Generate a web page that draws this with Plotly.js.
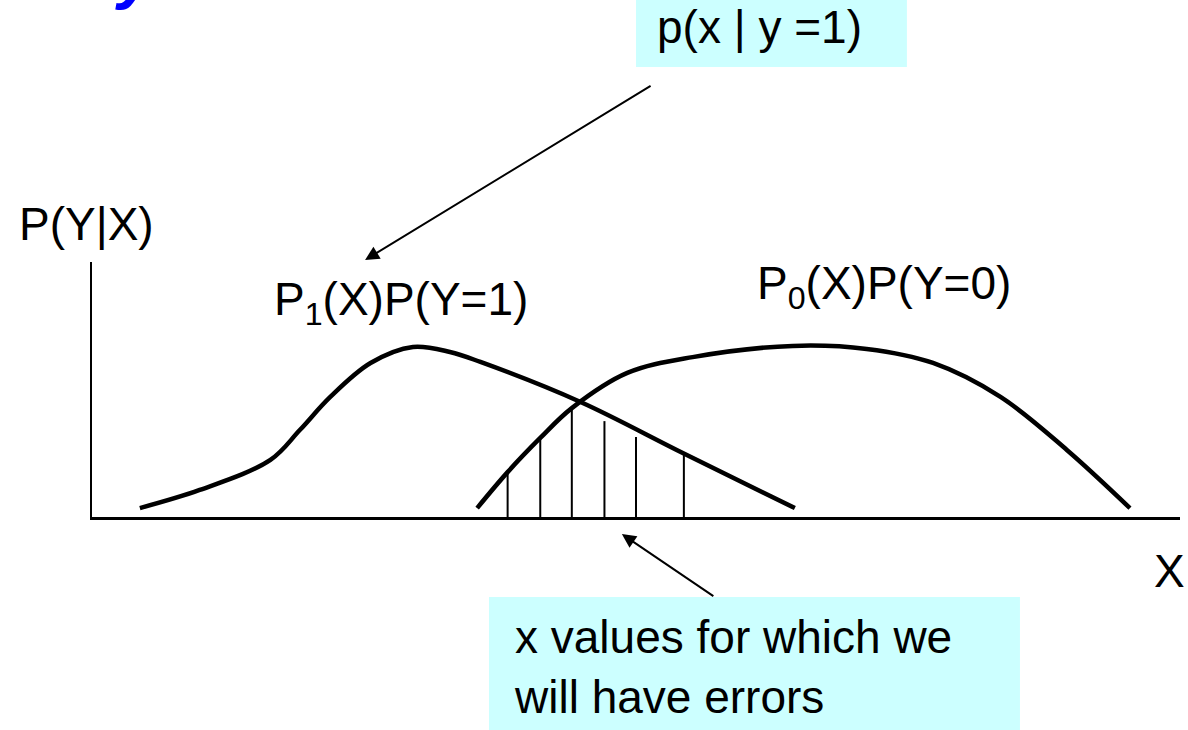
<!DOCTYPE html>
<html>
<head>
<meta charset="utf-8">
<script src="https://cdn.plot.ly/plotly-3.0.1.min.js"></script>
<style>
  html, body { margin: 0; padding: 0; background: #fff; }
  #chart { width: 1188px; height: 730px; }
</style>
</head>
<body>
<div id="chart"></div>
<script>
// curve for class 1: P1(X)P(Y=1)
const p1X = [0.44, 0.99, 1.64, 1.91, 2.19, 2.56, 2.95, 3.29, 3.57, 4.49, 5.43, 6.46];
const p1Y = [0.035, 0.106, 0.224, 0.341, 0.471, 0.604, 0.667, 0.647, 0.608, 0.451, 0.251, 0.035];

// curve for class 0: P0(X)P(Y=0)
const p0X = [3.54, 3.82, 4.12, 4.41, 4.92, 5.52, 6.44, 7.12, 7.73, 8.35, 8.96, 9.54];
const p0Y = [0.035, 0.176, 0.310, 0.427, 0.565, 0.627, 0.671, 0.659, 0.604, 0.471, 0.263, 0.035];

// hatching: x values where we get errors, and height of each line
const errX = [3.82, 4.12, 4.41, 4.71, 5.00, 5.44];
const errTop = [0.176, 0.310, 0.427, 0.376, 0.314, 0.251];

const font = "Liberation Sans, Arial, sans-serif";

// build line segments for the hatching
let hx = [], hy = [];
for (let i = 0; i < errX.length; i++) {
    hx.push(errX[i], errX[i], null);
    hy.push(0, errTop[i], null);
}

let curve1 = {
    type: "scatter", mode: "lines", x: p1X, y: p1Y,
    line: {color: "#000", width: 4.5, shape: "spline", smoothing: 1},
    hoverinfo: "skip"
};
let curve0 = {
    type: "scatter", mode: "lines", x: p0X, y: p0Y,
    line: {color: "#000", width: 4.5, shape: "spline", smoothing: 1},
    hoverinfo: "skip"
};
let hatch = {
    type: "scatter", mode: "lines", x: hx, y: hy,
    line: {color: "#000", width: 2},
    hoverinfo: "skip"
};

// labels are placed in paper units (x: 0..1 across the axis, y: 0..1 up the axis)
function label(text, x, y, size) {
    return {
        text: text, x: x, y: y, xref: "paper", yref: "paper",
        xanchor: "left", yanchor: "middle", align: "left",
        showarrow: false,
        font: {family: font, size: size || 46, color: "#000"}
    };
}

let layout = {
    width: 1188,
    height: 730,
    margin: {l: 92, r: 8, t: 262, b: 213, pad: 0},
    paper_bgcolor: "#fff",
    plot_bgcolor: "#fff",
    showlegend: false,
    xaxis: {
        range: [0, 10], showline: true, linecolor: "#000", linewidth: 3,
        showgrid: false, zeroline: false, showticklabels: false, ticks: ""
    },
    yaxis: {
        range: [0, 1], showline: true, linecolor: "#000", linewidth: 2,
        showgrid: false, zeroline: false, showticklabels: false, ticks: ""
    },
    shapes: [
        // light cyan boxes behind the notes
        {type: "rect", xref: "paper", yref: "paper", x0: 0.5, x1: 0.749, y0: 1.765, y1: 2.1,
         fillcolor: "#CCFFFF", line: {width: 0}, layer: "below"},
        {type: "rect", xref: "paper", yref: "paper", x0: 0.3649, x1: 0.8529, y0: -0.9, y1: -0.314,
         fillcolor: "#CCFFFF", line: {width: 0}, layer: "below"}
    ],
    annotations: [
        label("P(Y|X)", -0.0689, 1.15),
        label("P<sub>1</sub>(X)P(Y=1)", 0.1654, 0.84),
        label("P<sub>0</sub>(X)P(Y=0)", 0.6094, 0.905),
        label("X", 0.9743, -0.21),
        label("p(x | y =1)", 0.5175, 1.92),
        label("x values for which we<br>will have errors", 0.386, -0.59),
        // pointer from the note to curve 1
        {x: 0.251, y: 1.008, xref: "paper", yref: "paper", text: "", showarrow: true,
         ax: 287, ay: -175, arrowhead: 2, arrowsize: 1.4, arrowwidth: 2, arrowcolor: "#000"},
        // pointer from the bottom note to the error region
        {x: 0.487, y: -0.067, xref: "paper", yref: "paper", text: "", showarrow: true,
         ax: 93, ay: 63, arrowhead: 2, arrowsize: 1.4, arrowwidth: 2, arrowcolor: "#000"},
        // tail of the cut-off slide title
        {x: 0.0194, y: 1.98, xref: "paper", yref: "paper", text: "<b><i>y</i></b>", showarrow: false,
         xanchor: "left", yanchor: "bottom",
         font: {family: font, size: 66, color: "#0000FF"}}
    ]
};

Plotly.newPlot("chart", [curve1, curve0, hatch], layout, {staticPlot: true, displayModeBar: false});
</script>
</body>
</html>
